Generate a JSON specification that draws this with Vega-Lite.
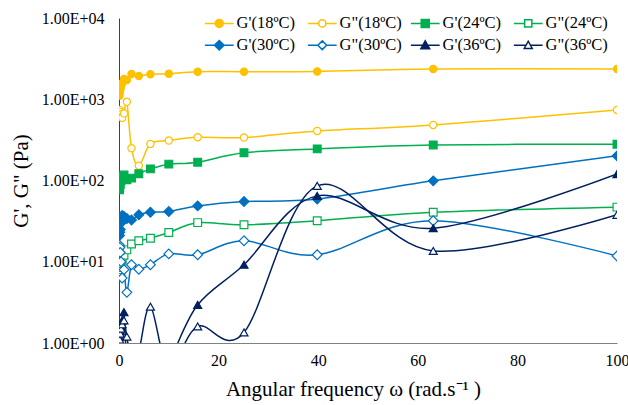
{
  "$schema": "https://vega.github.io/schema/vega-lite/v6.json",
  "width": 498,
  "height": 325,
  "autosize": "none",
  "padding": {"left": 119, "top": 18, "right": 11, "bottom": 62},
  "background": "white",
  "config": {
    "view": {"stroke": null},
    "font": "Liberation Serif",
    "axis": {"labelFont": "Liberation Serif", "titleFont": "Liberation Serif", "labelColor": "black", "titleColor": "black", "grid": false, "ticks": false, "labelFontSize": 16, "titleFontSize": 21, "titleFontWeight": "normal"},
    "legend": {"labelFont": "Liberation Serif", "labelFontSize": 16, "labelColor": "black"}
  },
  "data": {"values": [
    {"s":"G'(18ºC)","f":0.1,"v":1107},{"s":"G'(18ºC)","f":0.158,"v":1200},{"s":"G'(18ºC)","f":0.251,"v":1300},{"s":"G'(18ºC)","f":0.398,"v":1405},{"s":"G'(18ºC)","f":0.631,"v":1575},{"s":"G'(18ºC)","f":1,"v":1778},{"s":"G'(18ºC)","f":1.58,"v":1726},{"s":"G'(18ºC)","f":2.51,"v":2046},{"s":"G'(18ºC)","f":3.98,"v":1935},{"s":"G'(18ºC)","f":6.31,"v":2028},{"s":"G'(18ºC)","f":10,"v":2064},{"s":"G'(18ºC)","f":15.8,"v":2185},{"s":"G'(18ºC)","f":25.1,"v":2185},{"s":"G'(18ºC)","f":39.8,"v":2200},{"s":"G'(18ºC)","f":63.1,"v":2360},{"s":"G'(18ºC)","f":100,"v":2360},
    {"s":"G\"(18ºC)","f":0.1,"v":740},{"s":"G\"(18ºC)","f":0.158,"v":700},{"s":"G\"(18ºC)","f":0.251,"v":650},{"s":"G\"(18ºC)","f":0.398,"v":600},{"s":"G\"(18ºC)","f":0.631,"v":590},{"s":"G\"(18ºC)","f":1,"v":670},{"s":"G\"(18ºC)","f":1.58,"v":930},{"s":"G\"(18ºC)","f":2.51,"v":250},{"s":"G\"(18ºC)","f":3.98,"v":152},{"s":"G\"(18ºC)","f":6.31,"v":282},{"s":"G\"(18ºC)","f":10,"v":310},{"s":"G\"(18ºC)","f":15.8,"v":341},{"s":"G\"(18ºC)","f":25.1,"v":338},{"s":"G\"(18ºC)","f":39.8,"v":407},{"s":"G\"(18ºC)","f":63.1,"v":483},{"s":"G\"(18ºC)","f":100,"v":738},
    {"s":"G'(24ºC)","f":0.1,"v":77},{"s":"G'(24ºC)","f":0.158,"v":82},{"s":"G'(24ºC)","f":0.251,"v":90},{"s":"G'(24ºC)","f":0.398,"v":100},{"s":"G'(24ºC)","f":0.631,"v":112},{"s":"G'(24ºC)","f":1,"v":117},{"s":"G'(24ºC)","f":1.58,"v":102},{"s":"G'(24ºC)","f":2.51,"v":107},{"s":"G'(24ºC)","f":3.98,"v":121},{"s":"G'(24ºC)","f":6.31,"v":139},{"s":"G'(24ºC)","f":10,"v":159},{"s":"G'(24ºC)","f":15.8,"v":168},{"s":"G'(24ºC)","f":25.1,"v":220},{"s":"G'(24ºC)","f":39.8,"v":245},{"s":"G'(24ºC)","f":63.1,"v":274},{"s":"G'(24ºC)","f":100,"v":280},
    {"s":"G\"(24ºC)","f":0.1,"v":7.5},{"s":"G\"(24ºC)","f":0.158,"v":8},{"s":"G\"(24ºC)","f":0.251,"v":8.5},{"s":"G\"(24ºC)","f":0.398,"v":9.5},{"s":"G\"(24ºC)","f":0.631,"v":10.5},{"s":"G\"(24ºC)","f":1,"v":12},{"s":"G\"(24ºC)","f":1.58,"v":14},{"s":"G\"(24ºC)","f":2.51,"v":16.5},{"s":"G\"(24ºC)","f":3.98,"v":18.1},{"s":"G\"(24ºC)","f":6.31,"v":19.5},{"s":"G\"(24ºC)","f":10,"v":22.9},{"s":"G\"(24ºC)","f":15.8,"v":30.3},{"s":"G\"(24ºC)","f":25.1,"v":28.5},{"s":"G\"(24ºC)","f":39.8,"v":32},{"s":"G\"(24ºC)","f":63.1,"v":40.7},{"s":"G\"(24ºC)","f":100,"v":47},
    {"s":"G'(30ºC)","f":0.1,"v":21},{"s":"G'(30ºC)","f":0.158,"v":23},{"s":"G'(30ºC)","f":0.251,"v":25},{"s":"G'(30ºC)","f":0.398,"v":30},{"s":"G'(30ºC)","f":0.631,"v":37},{"s":"G'(30ºC)","f":1,"v":36},{"s":"G'(30ºC)","f":1.58,"v":34},{"s":"G'(30ºC)","f":2.51,"v":32.7},{"s":"G'(30ºC)","f":3.98,"v":37.8},{"s":"G'(30ºC)","f":6.31,"v":40.7},{"s":"G'(30ºC)","f":10,"v":41.5},{"s":"G'(30ºC)","f":15.8,"v":48.7},{"s":"G'(30ºC)","f":25.1,"v":55},{"s":"G'(30ºC)","f":39.8,"v":59},{"s":"G'(30ºC)","f":63.1,"v":99},{"s":"G'(30ºC)","f":100,"v":201},
    {"s":"G\"(30ºC)","f":0.1,"v":16},{"s":"G\"(30ºC)","f":0.158,"v":15},{"s":"G\"(30ºC)","f":0.251,"v":13},{"s":"G\"(30ºC)","f":0.398,"v":10},{"s":"G\"(30ºC)","f":0.631,"v":6.3},{"s":"G\"(30ºC)","f":1,"v":8},{"s":"G\"(30ºC)","f":1.58,"v":4.2},{"s":"G\"(30ºC)","f":2.51,"v":9.2},{"s":"G\"(30ºC)","f":3.98,"v":8.1},{"s":"G\"(30ºC)","f":6.31,"v":9.2},{"s":"G\"(30ºC)","f":10,"v":12.5},{"s":"G\"(30ºC)","f":15.8,"v":12.2},{"s":"G\"(30ºC)","f":25.1,"v":18.1},{"s":"G\"(30ºC)","f":39.8,"v":12.2},{"s":"G\"(30ºC)","f":63.1,"v":32},{"s":"G\"(30ºC)","f":100,"v":11.8},
    {"s":"G'(36ºC)","f":0.1,"v":1.0},{"s":"G'(36ºC)","f":0.158,"v":1.2},{"s":"G'(36ºC)","f":0.251,"v":1.4},{"s":"G'(36ºC)","f":0.398,"v":1.6},{"s":"G'(36ºC)","f":0.631,"v":1.9},{"s":"G'(36ºC)","f":1,"v":2.4},{"s":"G'(36ºC)","f":1.58,"v":0.6},{"s":"G'(36ºC)","f":2.51,"v":0.4},{"s":"G'(36ºC)","f":3.98,"v":0.4},{"s":"G'(36ºC)","f":6.31,"v":0.4},{"s":"G'(36ºC)","f":10,"v":0.6},{"s":"G'(36ºC)","f":15.8,"v":2.95},{"s":"G'(36ºC)","f":25.1,"v":9.2},{"s":"G'(36ºC)","f":39.8,"v":64.7},{"s":"G'(36ºC)","f":63.1,"v":25.9},{"s":"G'(36ºC)","f":100,"v":120},
    {"s":"G\"(36ºC)","f":0.1,"v":1.0},{"s":"G\"(36ºC)","f":0.158,"v":1.1},{"s":"G\"(36ºC)","f":0.251,"v":1.3},{"s":"G\"(36ºC)","f":0.398,"v":1.5},{"s":"G\"(36ºC)","f":0.631,"v":1.7},{"s":"G\"(36ºC)","f":1,"v":1.9},{"s":"G\"(36ºC)","f":1.58,"v":1.2},{"s":"G\"(36ºC)","f":2.51,"v":0.6},{"s":"G\"(36ºC)","f":3.98,"v":0.8},{"s":"G\"(36ºC)","f":6.31,"v":2.8},{"s":"G\"(36ºC)","f":10,"v":0.5},{"s":"G\"(36ºC)","f":15.8,"v":1.6},{"s":"G\"(36ºC)","f":25.1,"v":1.35},{"s":"G\"(36ºC)","f":39.8,"v":86},{"s":"G\"(36ºC)","f":63.1,"v":13.6},{"s":"G\"(36ºC)","f":100,"v":37.8}
  ]},
  "encoding": {
    "x": {"field": "f", "type": "quantitative", "scale": {"domain": [0, 100], "nice": false, "zero": false},
      "axis": {"values": [0, 20, 40, 60, 80, 100], "title": "Angular frequency ω (rad.s⁻¹ )", "titleX": 234, "domainColor": "#808080", "domainWidth": 1, "labelPadding": 9, "titlePadding": 10, "labelFlush": false}},
    "y": {"field": "v", "type": "quantitative", "scale": {"type": "log", "domain": [1, 10000], "nice": false},
      "axis": {"values": [1, 10, 100, 1000, 10000], "labelExpr": "'1.00E+0' + round(log(datum.value)/LN10)", "title": "G', G\" (Pa)", "domainColor": "#404040", "domainWidth": 1, "labelPadding": 15, "titlePadding": 10}}
  },
  "layer": [
    {
      "transform": [{"filter": "false"}],
      "mark": {"type": "point", "opacity": 1, "strokeWidth": 1.5},
      "encoding": {
        "color": {"field": "s", "type": "nominal",
          "scale": {"domain": ["G'(18ºC)", "G\"(18ºC)", "G'(24ºC)", "G\"(24ºC)", "G'(30ºC)", "G\"(30ºC)", "G'(36ºC)", "G\"(36ºC)"],
            "range": ["#FFC000", "#FFC000", "#00B050", "#00B050", "#0070C0", "#0070C0", "#002060", "#002060"]},
          "legend": {"orient": "none", "direction": "horizontal", "gridAlign": "all", "legendX": 92, "legendY": -3, "columns": 4, "title": null, "padding": 0, "columnPadding": 5, "rowPadding": 5, "symbolSize": 64, "symbolStrokeWidth": 1.5, "labelOffset": 9, "labelFontSize": 16.5}},
        "fill": {"field": "s", "type": "nominal",
          "scale": {"domain": ["G'(18ºC)", "G\"(18ºC)", "G'(24ºC)", "G\"(24ºC)", "G'(30ºC)", "G\"(30ºC)", "G'(36ºC)", "G\"(36ºC)"],
            "range": ["#FFC000", "white", "#00B050", "white", "#0070C0", "white", "#002060", "white"]},
          "legend": {"orient": "none", "direction": "horizontal", "gridAlign": "all", "legendX": 92, "legendY": -3, "columns": 4, "title": null, "padding": 0, "columnPadding": 5, "rowPadding": 5, "symbolSize": 64, "symbolStrokeWidth": 1.5, "labelOffset": 9, "labelFontSize": 16.5}},
        "shape": {"field": "s", "type": "nominal",
          "scale": {"domain": ["G'(18ºC)", "G\"(18ºC)", "G'(24ºC)", "G\"(24ºC)", "G'(30ºC)", "G\"(30ºC)", "G'(36ºC)", "G\"(36ºC)"],
            "range": [
              "M-3.6,0H-1M1,0H3.6M-1,0A1,1,0,1,0,1,0A1,1,0,1,0,-1,0Z",
              "M-3.6,0H-0.9M0.9,0H3.6M-0.9,0A0.9,0.9,0,1,0,0.9,0A0.9,0.9,0,1,0,-0.9,0Z",
              "M-3.6,0H-1M1,0H3.6M-1,-1H1V1H-1Z",
              "M-3.6,0H-0.9M0.9,0H3.6M-0.9,-0.9H0.9V0.9H-0.9Z",
              "M-3.6,0H-1.2M1.2,0H3.6M0,-1.2L1.2,0L0,1.2L-1.2,0Z",
              "M-3.6,0H-1.1M1.1,0H3.6M0,-1.1L1.1,0L0,1.1L-1.1,0Z",
              "M-3.6,0H-0.6M0.6,0H3.6M0,-1.1L1.1,0.9H-1.1Z",
              "M-3.6,0H-0.6M0.6,0H3.6M0,-1L1,0.8H-1Z"
            ]},
          "legend": {"orient": "none", "direction": "horizontal", "gridAlign": "all", "legendX": 92, "legendY": -3, "columns": 4, "title": null, "padding": 0, "columnPadding": 5, "rowPadding": 5, "symbolSize": 64, "symbolStrokeWidth": 1.5, "labelOffset": 9, "labelFontSize": 16.5}}
      }
    },
    {
      "mark": {"type": "line", "interpolate": "cardinal", "clip": true, "strokeWidth": 1.5},
      "encoding": {
        "color": {"field": "s", "type": "nominal", "legend": null}
      }
    },
    {
      "transform": [{"filter": "indexof(datum.s, '18') >= 0"}],
      "mark": {"type": "point", "shape": "circle", "size": 52, "clip": true, "opacity": 1, "strokeWidth": 1.2},
      "encoding": {
        "color": {"field": "s", "type": "nominal", "legend": null},
        "fill": {"field": "s", "type": "nominal", "legend": null}
      }
    },
    {
      "transform": [{"filter": "indexof(datum.s, '24') >= 0"}],
      "mark": {"type": "point", "shape": "square", "size": 60, "clip": true, "opacity": 1, "strokeWidth": 1.2},
      "encoding": {
        "color": {"field": "s", "type": "nominal", "legend": null},
        "fill": {"field": "s", "type": "nominal", "legend": null}
      }
    },
    {
      "transform": [{"filter": "indexof(datum.s, '30') >= 0"}],
      "mark": {"type": "point", "shape": "diamond", "size": 95, "clip": true, "opacity": 1, "strokeWidth": 1.2},
      "encoding": {
        "color": {"field": "s", "type": "nominal", "legend": null},
        "fill": {"field": "s", "type": "nominal", "legend": null}
      }
    },
    {
      "transform": [{"filter": "indexof(datum.s, '36') >= 0"}],
      "mark": {"type": "point", "shape": "triangle-up", "size": 64, "clip": true, "opacity": 1, "strokeWidth": 1.2},
      "encoding": {
        "color": {"field": "s", "type": "nominal", "legend": null},
        "fill": {"field": "s", "type": "nominal", "legend": null}
      }
    }
  ]
}
